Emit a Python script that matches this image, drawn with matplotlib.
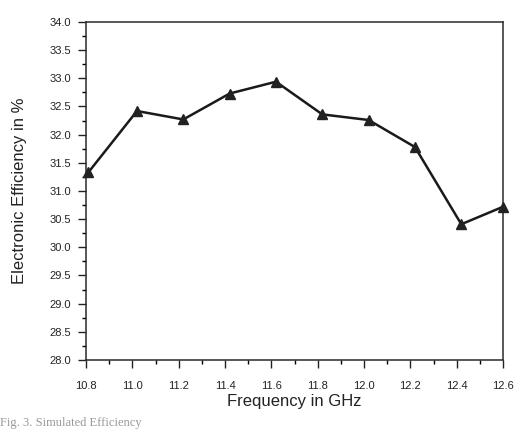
import matplotlib
matplotlib.use("Agg")
import matplotlib.pyplot as plt
from matplotlib.ticker import MultipleLocator

plt.rcParams['font.family'] = ['Liberation Sans', 'DejaVu Sans']

freq_ghz = [10.81, 11.02, 11.22, 11.42, 11.62, 11.82, 12.02, 12.22, 12.42, 12.60]
efficiency_pct = [31.33, 32.42, 32.27, 32.73, 32.94, 32.36, 32.26, 31.78, 30.41, 30.72]
x_ticks = [10.8, 11.0, 11.2, 11.4, 11.6, 11.8, 12.0, 12.2, 12.4, 12.6]
y_ticks = [28.0, 28.5, 29.0, 29.5, 30.0, 30.5, 31.0, 31.5, 32.0, 32.5, 33.0, 33.5, 34.0]

fig = plt.figure(figsize=(5.17, 4.29), dpi=100)
ax = fig.add_axes([86/517, 1 - 360/429, (503-86)/517, (360-22)/429])

ax.plot(freq_ghz, efficiency_pct, color='#1a1a1a', lw=1.8, marker='^',
        markersize=7, markerfacecolor='#222222', markeredgecolor='#222222',
        clip_on=False, zorder=3)

ax.set_xlim(10.8, 12.6)
ax.set_ylim(28.0, 34.0)
ax.set_xticks(x_ticks)
ax.set_yticks(y_ticks)
ax.set_xticklabels([f"{v:.1f}" for v in x_ticks])
ax.set_yticklabels([f"{v:.1f}" for v in y_ticks])
ax.xaxis.set_minor_locator(MultipleLocator(0.1))
ax.yaxis.set_minor_locator(MultipleLocator(0.25))

ax.tick_params(axis='both', which='major', direction='out', length=6, width=1.0,
               labelsize=8, colors='#222222', pad=5)
ax.tick_params(axis='both', which='minor', direction='out', length=3, width=1.0)
ax.tick_params(axis='x', which='major', pad=9)

for s in ax.spines.values():
    s.set_linewidth(1.1)
    s.set_color('#2a2a2a')

ax.set_xlabel("Frequency in GHz", fontsize=12, color='#222222', labelpad=2)
ax.set_ylabel("Electronic Efficiency in %", fontsize=12, color='#222222', labelpad=16)

fig.text(0.0, 0.008, "Fig. 3. Simulated Efficiency", fontsize=9,
         family=['Liberation Serif', 'DejaVu Serif'], color='#999999')

fig.savefig("out.png", dpi=100, facecolor='white')
